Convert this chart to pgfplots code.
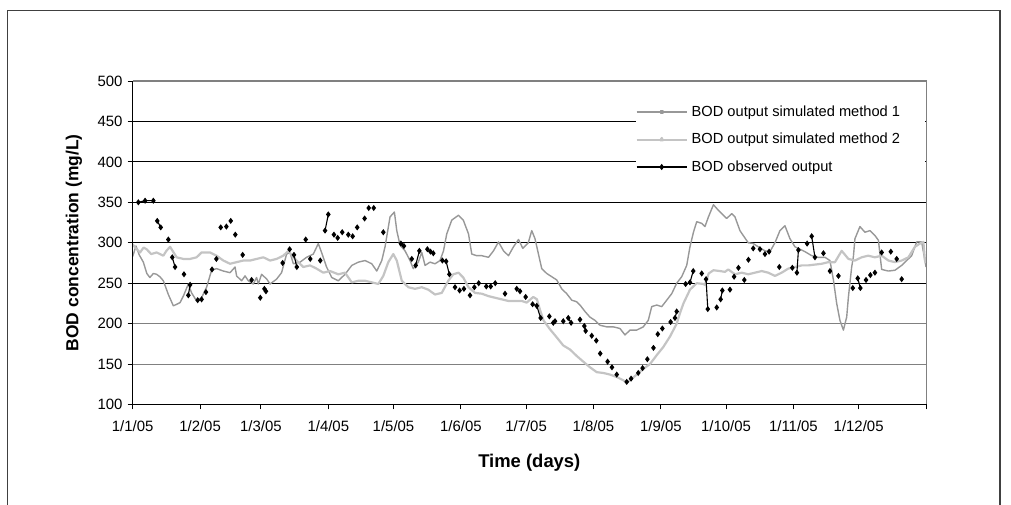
\documentclass[border=0pt]{standalone}
\usepackage{fontspec}
\setmainfont{Liberation Sans}
\usepackage{pgfplots}
\usepackage{pgfplotstable}
\pgfplotsset{compat=1.18}
\definecolor{mone}{HTML}{989898}
\definecolor{mtwo}{HTML}{C4C4C4}

\pgfplotstableread{
d v
0 283
1.5 296
3 285
4.9 276
6.5 262
7.9 257
9.5 262
11 261
12.5 258
14.1 253
16.4 236
18.7 222
20.3 224
21.8 226
23.3 234
25.6 249
27.1 238
29.4 228
31.7 232
34 245
36.3 266
38.6 268
41.7 265
44.8 263
47.1 270
47.8 259
50.1 253
51.7 259
53.2 253
55.5 249
57 257
57.8 249
59.3 261
61.7 255
63.2 249
66.2 255
68.5 263
70.8 286
72.4 288
73.9 274
77 276
80 282
83.1 286
85.4 299
86.9 288
89.2 270
91.6 257
94.6 253
97.7 261
100.8 272
103.8 276
106.9 278
110 274
112.3 265
114.6 278
116.1 295
118.4 332
120.4 338
121.5 315
123 297
125.3 290
127.6 278
129.1 268
131.4 276
133 288
134.5 272
136.8 276
139.1 274
141.4 278
143 290
144.5 311
146.8 328
149.9 334
152.1 328
154.5 311
156 286
158.3 284
160.6 284
163.7 282
166 290
168.3 301
170.6 290
172.9 284
175.2 295
177.5 304
179.5 293
182 300
183.6 315
185.1 305
186.6 287
188.2 268
190.5 262
192.8 258
195.1 254
197.4 243
199.7 237
202 229
204.3 227
205.8 223
208.1 215
210.4 208
212.7 204
215 198
218.1 196
221.1 196
224.2 194
226.5 186
228.8 192
231.9 192
234.9 196
237.2 204
238.8 221
241.1 223
243.4 221
245.7 229
248 237
250.3 250
252.6 258
254.9 272
256.4 295
258 313
259.5 326
261.8 324
263.3 320
264.9 332
267.2 347
269.5 340
271 336
273.3 330
275.6 336
277.1 332
279.4 315
280.9 309
283.2 300
285.5 299
287.8 295
290.9 290
293.2 289
295.5 300
297.8 315
300.1 321
302.4 305
304.7 295
307 292
309.3 289
312.4 284
315.4 282
318.5 282
320.8 278
322.4 254
323.9 225
325.4 204
327 192
328.5 208
329.3 233
330.8 270
331.6 283
332.3 305
334.6 320
336.9 313
339.2 315
341.5 309
343.1 303
344.6 267
347.7 265
350.7 266
353.8 272
356.1 278
358.4 284
360.7 301
363 301
364.5 278
365 270
}\mone

\pgfplotstableread{
d v
0 298
1.5 293
3.4 288
5 294
6.4 292
8.5 286
11 288
14.1 284
15.5 290
17.2 295
20.2 282
23.3 280
26.4 280
29.4 282
31.7 288
35.6 288
38.6 284
41.7 278
44.8 274
47.8 276
50.9 278
54 278
57 280
60.1 282
63.2 278
66.2 280
69.3 284
71.6 290
73.9 282
75.4 278
78.5 270
81.6 272
84.6 268
87.7 263
90.8 265
94.6 261
97.7 263
100.8 251
103.8 253
106.9 253
110 251
113 249
115.3 259
117.6 276
119.9 286
121.5 278
123.8 253
126.8 245
129.9 243
133 245
136 242
139.1 236
142.2 238
145.2 253
147.5 261
149.9 263
152.1 257
154.5 245
157.5 238
160.6 237
163.7 234
166.7 232
169.8 230
172.9 228
176 228
179 228
181.3 226
184.3 233
186 230
187.4 217
189 204
192 193
195.1 183
198.1 173
201.2 168
204.3 160
207.3 153
210.4 146
213.5 140
216.5 139
219.6 137
222.7 134
225.7 130
227.3 127
228.8 130
231.9 137
234.9 144
238 150
241.1 161
244.1 171
247.2 184
250.3 200
251.8 213
253.4 225
256.4 242
259.5 250
262.6 249
263.3 248
265 262
267.2 266
270.2 265
272.5 264
274 267
277.1 261
280.2 263
283.2 261
286.3 263
289.4 265
292.4 263
295.5 259
298.6 263
301.6 268
304.7 270
307.8 272
310.8 272
313.9 273
317 274
320 276
323.1 276
326.2 290
329.3 280
332.3 278
335.4 282
338.4 284
341.5 282
344.6 284
347.7 278
350.7 276
353.8 278
356.9 282
359.9 295
362.2 299
363.8 301
364.5 278
365 275
}\mtwo

\pgfplotstableread{
d v
2.6 350
5.7 352
9.5 352
9.5 nan
11.3 327
12.9 319
12.9 nan
16.4 304
16.4 nan
18.2 282
19.5 270
19.5 nan
23.6 261
23.6 nan
25.6 235
26.4 248
26.4 nan
29.9 229
29.9 nan
31.7 230
31.7 nan
33.7 239
33.7 nan
36.5 267
36.5 nan
38.5 280
38.5 nan
40.5 319
40.5 nan
43.1 320
43.1 nan
45.1 327
45.1 nan
47.2 310
47.2 nan
50.6 285
50.6 nan
54.7 254
54.7 nan
58.7 232
58.7 nan
60.6 243
61.3 240
61.3 nan
69.0 275
69.0 nan
72.2 292
72.2 nan
74.2 285
75.5 270
75.5 nan
79.6 304
79.6 nan
81.7 280
81.7 nan
86.3 278
86.3 nan
88.5 315
90.0 335
90.0 nan
92.6 310
92.6 nan
94.3 306
94.3 nan
96.4 313
96.4 nan
99.2 310
99.2 nan
101.2 308
101.2 nan
103.3 319
103.3 nan
106.7 330
106.7 nan
108.6 343
108.6 nan
110.9 343
110.9 nan
115.3 313
115.3 nan
123.4 299
124.8 296
124.8 nan
128.4 280
128.4 nan
130.2 272
131.9 290
131.9 nan
135.6 292
135.6 nan
137 289
138.3 287
138.3 nan
142.5 278
144.2 277
145.7 261
145.7 nan
148.3 245
148.3 nan
150.4 241
150.4 nan
152.4 243
152.4 nan
155.2 235
155.2 nan
157.2 245
157.2 nan
159.2 250
159.2 nan
162.7 246
162.7 nan
164.7 246
164.7 nan
166.8 250
166.8 nan
171.3 237
171.3 nan
176.7 243
176.7 nan
178.2 240
178.2 nan
180.8 233
180.8 nan
184 224
185.9 222
187.7 207
187.7 nan
191.7 209
191.7 nan
193.5 201
194.3 203
194.3 nan
198.1 203
198.1 nan
200.4 207
201.7 201
201.7 nan
205.8 205
205.8 nan
207.8 197
208.4 191
208.4 nan
211.2 185
211.2 nan
213.3 179
213.3 nan
215.1 163
215.1 nan
218.5 153
218.5 nan
220.5 146
220.5 nan
222.7 137
222.7 nan
227.3 128
227.3 nan
229.3 132
229.3 nan
232.6 139
232.6 nan
234.6 145
234.6 nan
236.8 156
236.8 nan
239.6 170
239.6 nan
241.6 187
241.6 nan
243.7 194
243.7 nan
247.5 202
247.5 nan
249.5 207
250.3 215
250.3 nan
254.4 249
254.4 nan
256.4 251
257.9 265
257.9 nan
261.8 262
261.8 nan
263.8 255
264.6 218
264.6 nan
268.7 220
268.7 nan
270.5 230
271.3 241
271.3 nan
274.8 242
274.8 nan
276.7 258
276.7 nan
278.7 269
278.7 nan
281.4 254
281.4 nan
283.3 279
283.3 nan
285.5 293
285.5 nan
288.6 292
288.6 nan
290.9 286
290.9 nan
292.8 289
292.8 nan
297.5 270
297.5 nan
303.5 269
303.5 nan
305.6 263
306.3 291
306.3 nan
310.3 299
310.3 nan
312.4 308
313.9 282
313.9 nan
317.8 287
317.8 nan
320.8 265
320.8 nan
324.7 259
324.7 nan
331.3 244
331.3 nan
333.6 256
334.8 244
334.8 nan
337.4 254
337.4 nan
339.4 260
339.4 nan
341.5 263
341.5 nan
344.6 288
344.6 nan
348.8 289
348.8 nan
351.5 280
351.5 nan
353.8 255
}\obs

\begin{document}
\begin{tikzpicture}
\useasboundingbox (0,0) rectangle (1011bp,505bp);
\draw[line width=1.4bp, black!75] (7.5bp,0bp) -- (7.5bp,494.3bp) -- (1000bp,494.3bp) -- (1000bp,0bp);
\begin{axis}[
  at={(132.7bp,100.5bp)}, anchor=south west,
  scale only axis, width=793.3bp, height=323.5bp,
  xmin=0, xmax=365, ymin=100, ymax=500,
  axis line style={draw=none},
  clip=false,
  tick pos=left, tick align=outside, major tick length=5bp,
  every tick/.style={black, line width=0.9bp},
  xtick={0,31,59,90,120,151,181,212,243,273,304,334,365},
  xticklabels={1/1/05,1/2/05,1/3/05,1/4/05,1/5/05,1/6/05,1/7/05,1/8/05,1/9/05,1/10/05,1/11/05,1/12/05,{}},
  ytick={100,250,300,350,400,450},
  extra y ticks={150,200,500},
  extra y tick style={grid=major, major grid style={draw=black!50, line width=0.9bp}},
  ymajorgrids, major grid style={draw=black, line width=0.9bp},
  /pgf/number format/assume math mode=true,
  tick label style={font=\fontsize{15}{18}\selectfont},
  xticklabel style={anchor=north, inner sep=0pt, yshift=-11bp},
  yticklabel style={anchor=east, inner sep=0pt, xshift=-5bp},
  xlabel={Time (days)}, ylabel={BOD concentration (mg/L)},
  every axis x label/.style={at={(axis description cs:0.5,-0.181)}, anchor=center, font=\bfseries\fontsize{18.5}{22}\selectfont},
  every axis y label/.style={at={(axis description cs:-0.074,0.5)}, rotate=90, anchor=center, font=\bfseries\fontsize{17.5}{21}\selectfont},
  legend style={at={(axis description cs:0.6338,0.948)}, anchor=north west, draw=none, fill=white,
    inner xsep=0bp, inner ysep=6bp, row sep=11.5bp, column sep=3bp,
    font=\fontsize{14.7}{17}\selectfont,
    nodes={inner sep=1bp, text height=11bp, text depth=3bp}},
  legend cell align=left,
]
\addplot[mone, line width=1.4bp, line join=round, legend image code/.code={\draw[mone, line width=1.5bp, mark=square*, mark size=1.2bp, mark repeat=2, mark phase=2] plot coordinates {(0bp,0bp) (25bp,0bp) (50bp,0bp)};}] table {\mone};
\addlegendentry{\makebox[232bp][l]{BOD output simulated method 1}}
\addplot[mtwo, line width=2.2bp, line join=round, legend image code/.code={\draw[mtwo, line width=2bp, mark=triangle*, mark size=1.6bp, mark repeat=2, mark phase=2] plot coordinates {(0bp,0bp) (25bp,0bp) (50bp,0bp)};}] table {\mtwo};
\addlegendentry{\makebox[232bp][l]{BOD output simulated method 2}}
\addplot[black, line width=1.1bp, mark=diamond*, mark size=2.2bp, unbounded coords=jump, legend image code/.code={\draw[black, line width=1.2bp, mark=diamond*, mark size=2.2bp, mark repeat=2, mark phase=2] plot coordinates {(0bp,0bp) (25bp,0bp) (50bp,0bp)};}] table {\obs};
\addlegendentry{\makebox[232bp][l]{BOD observed output}}
\draw[black!50, line width=1bp] (rel axis cs:0,1) -- (rel axis cs:1,1) -- (rel axis cs:1,0);
\draw[black, line width=1.8bp] (rel axis cs:0,0) -- (rel axis cs:1,0);
\draw[black, line width=1.2bp] (rel axis cs:0,0) -- (rel axis cs:0,1);
\end{axis}
\end{tikzpicture}
\end{document}
